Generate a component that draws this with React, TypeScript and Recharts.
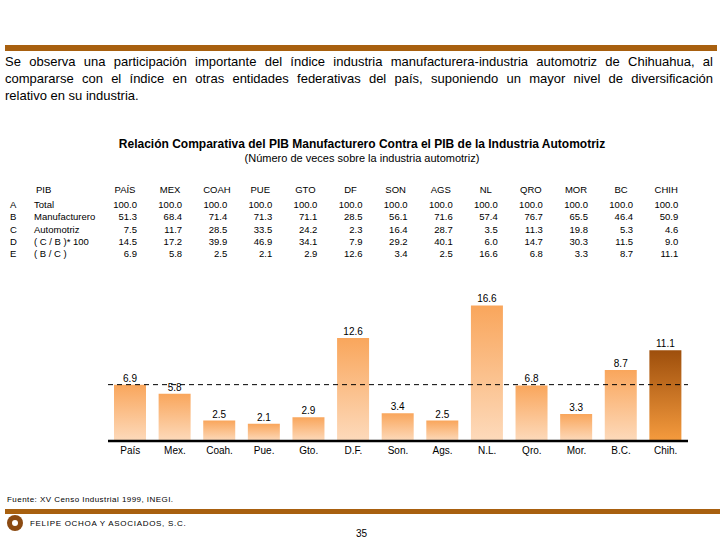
import React from 'react';
import { BarChart, Bar, XAxis, YAxis, Cell, LabelList, ReferenceLine } from 'recharts';

// entidades (encabezado de la tabla) y etiquetas del eje
const entidades = ['PAÍS', 'MEX', 'COAH', 'PUE', 'GTO', 'DF', 'SON', 'AGS', 'NL', 'QRO', 'MOR', 'BC', 'CHIH'];
const etiquetas = ['País', 'Mex.', 'Coah.', 'Pue.', 'Gto.', 'D.F.', 'Son.', 'Ags.', 'N.L.', 'Qro.', 'Mor.', 'B.C.', 'Chih.'];

const total = [100, 100, 100, 100, 100, 100, 100, 100, 100, 100, 100, 100, 100];
const manufacturero = [51.3, 68.4, 71.4, 71.3, 71.1, 28.5, 56.1, 71.6, 57.4, 76.7, 65.5, 46.4, 50.9];
const automotriz = [7.5, 11.7, 28.5, 33.5, 24.2, 2.3, 16.4, 28.7, 3.5, 11.3, 19.8, 5.3, 4.6];
const cEntreB = [14.5, 17.2, 39.9, 46.9, 34.1, 7.9, 29.2, 40.1, 6.0, 14.7, 30.3, 11.5, 9.0];
const bEntreC = [6.9, 5.8, 2.5, 2.1, 2.9, 12.6, 3.4, 2.5, 16.6, 6.8, 3.3, 8.7, 11.1];

const filas = [
  { letra: 'A', nombre: 'Total', valores: total },
  { letra: 'B', nombre: 'Manufacturero', valores: manufacturero },
  { letra: 'C', nombre: 'Automotriz', valores: automotriz },
  { letra: 'D', nombre: '( C / B )* 100', valores: cEntreB },
  { letra: 'E', nombre: '( B / C )', valores: bEntreC },
];

const parrafo = [
  'Se observa una participación importante del índice industria manufacturera-industria automotriz de Chihuahua, al',
  'compararse con el índice en otras entidades federativas del país, suponiendo un mayor nivel de diversificación',
  'relativo en su industria.',
];

const destacado = 'CHIH';
const referencia = bEntreC[0];

const BROWN = '#A8600F';
const FONT = '"Liberation Sans", Arial, sans-serif';

const App: React.FC = () => {
  const data = entidades.map((e, i) => ({ entidad: e, etiqueta: etiquetas[i], valor: bEntreC[i] }));

  const colRight = (i: number) => 137 + i * 45.1;
  const rowY = (r: number) => 199 + r * 12.3;

  return (
    <div style={{ position: 'fixed', left: 0, top: 0, width: 720, height: 540, background: '#fff', fontFamily: FONT, color: '#000' }}>
      {/* franja superior */}
      <div style={{ position: 'absolute', left: 5, top: 45, width: 712, height: 6, background: BROWN }} />

      <div style={{ position: 'absolute', left: 5, top: 53, width: 708, fontSize: 13, lineHeight: '17px' }}>
        {parrafo.map((l, i) => (
          <div key={i} style={{ textAlign: 'justify', textAlignLast: i < parrafo.length - 1 ? 'justify' : 'left', whiteSpace: 'nowrap' }}>
            {l}
          </div>
        ))}
      </div>

      <div style={{ position: 'absolute', left: 0, top: 137, width: 724, textAlign: 'center', fontSize: 12, fontWeight: 'bold' }}>
        Relación Comparativa del PIB Manufacturero Contra el PIB de la Industria Automotriz
      </div>
      <div style={{ position: 'absolute', left: 0, top: 152, width: 724, textAlign: 'center', fontSize: 11 }}>
        (Número de veces sobre la industria automotriz)
      </div>

      {/* tabla */}
      <div style={{ position: 'absolute', left: 36, top: 184, fontSize: 9.5 }}>PIB</div>
      {filas.map((f, r) => (
        <React.Fragment key={f.letra}>
          <div style={{ position: 'absolute', left: 10, top: rowY(r), fontSize: 9.5 }}>{f.letra}</div>
          <div style={{ position: 'absolute', left: 34, top: rowY(r), fontSize: 9.5 }}>{f.nombre}</div>
        </React.Fragment>
      ))}
      {entidades.map((e, i) => (
        <div key={e} style={{ position: 'absolute', left: colRight(i) - 24, top: 184, width: 24, fontSize: 9.5 }}>
          <div style={{ textAlign: 'center', whiteSpace: 'nowrap', width: 24 }}>{e}</div>
          {filas.map((f, r) => (
            <div key={f.letra} style={{ position: 'absolute', top: rowY(r) - 184, right: 0, whiteSpace: 'nowrap' }}>
              {f.valores[i].toFixed(1)}
            </div>
          ))}
        </div>
      ))}

      {/* gráfica */}
      <div style={{ position: 'absolute', left: 0, top: 280 }}>
        <BarChart width={720} height={190} data={data} margin={{ top: 14, right: 32, left: 108, bottom: 9 }} barSize={32}>
          <defs>
            <linearGradient id="gNormal" x1="0" y1="0" x2="0" y2="1">
              <stop offset="0%" stopColor="#F9A65C" />
              <stop offset="100%" stopColor="#FDDABB" />
            </linearGradient>
            <linearGradient id="gChih" x1="0" y1="0" x2="0" y2="1">
              <stop offset="0%" stopColor="#9E4F0C" />
              <stop offset="100%" stopColor="#F59B3E" />
            </linearGradient>
          </defs>
          <XAxis
            dataKey="etiqueta"
            tickLine={false}
            tickSize={4}
            axisLine={{ stroke: '#000', strokeWidth: 2.5 }}
            tick={{ fontSize: 10, fill: '#000', fontFamily: FONT }}
            interval={0}
            height={20}
          />
          <YAxis hide domain={[0, 18]} />
          <Bar dataKey="valor" isAnimationActive={false}>
            {data.map((d) => (
              <Cell key={d.entidad} fill={d.entidad === destacado ? 'url(#gChih)' : 'url(#gNormal)'} />
            ))}
            <LabelList dataKey="valor" position="top" offset={3} style={{ fontSize: 10, fill: '#000', fontFamily: FONT }} formatter={(v: any) => Number(v).toFixed(1)} />
          </Bar>
          <ReferenceLine y={referencia} stroke="#000" strokeDasharray="5 4" strokeWidth={1} />
        </BarChart>
      </div>

      {/* pie */}
      <div style={{ position: 'absolute', left: 7, top: 495, fontSize: 8, letterSpacing: 0.45 }}>Fuente: XV Censo Industrial 1999, INEGI.</div>
      <div style={{ position: 'absolute', left: 5, top: 509, width: 715, height: 5, background: BROWN }} />
      <div style={{ position: 'absolute', left: 7, top: 515, width: 16, height: 16, borderRadius: 8, background: '#8B4A12' }}>
        <div style={{ position: 'absolute', left: 5, top: 5, width: 6, height: 6, borderRadius: 3, background: '#fff' }} />
      </div>
      <div style={{ position: 'absolute', left: 30, top: 519, fontSize: 8, letterSpacing: 0.7 }}>FELIPE OCHOA Y ASOCIADOS, S.C.</div>
      <div style={{ position: 'absolute', left: 356, top: 528, fontSize: 10 }}>35</div>
    </div>
  );
};

export default App;
